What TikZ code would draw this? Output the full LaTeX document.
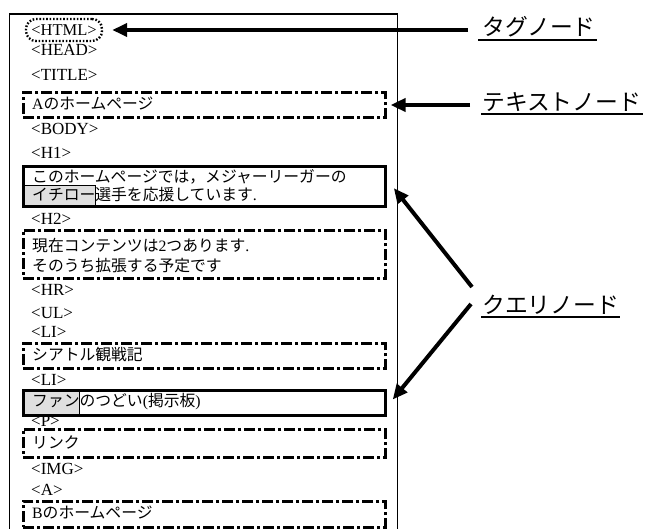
\documentclass[tikz,border=0pt]{standalone}
\usepackage{fontspec}
\setmainfont{Liberation Serif}
\newfontfamily\jp{Noto Sans CJK JP}
\usetikzlibrary{arrows.meta}
\begin{document}
\begin{tikzpicture}[x=1pt,y=-1pt,
  tag/.style={anchor=west, inner sep=0pt, font=\fontsize{17}{18}\selectfont},
  jtext/.style={anchor=west, inner sep=0pt, font=\fontsize{15.8}{18}\selectfont},
  txtbox/.style={draw, line width=2.6pt, dash pattern=on 11pt off 3pt on 3pt off 3pt, minimum width=362pt, inner sep=0pt, anchor=north west},
  qbox/.style={draw, line width=3pt, minimum width=362pt, inner sep=0pt, anchor=north west},
  hl/.style={draw, line width=1.2pt, fill=gray!25, inner sep=0pt, anchor=north west},
  lab/.style={anchor=west, inner sep=0pt, font=\jp\fontsize{22.8}{24}\selectfont},
  ul/.style={line width=2.6pt},
  arr/.style={line width=4pt, -{Triangle[length=15pt,width=13pt]}},
  tagnode/.style={draw, line width=2.4pt, dash pattern=on 1.6pt off 1.8pt, rounded corners=10pt, minimum width=76pt, minimum height=22pt, inner sep=0pt},
]
\useasboundingbox (0,0) rectangle (646,529);
% frame
\draw[line width=1.5pt] (9.5,529) -- (9.5,14) -- (397.5,14) -- (397.5,529);

% tags
\node[tagnode, font=\fontsize{16.5}{18}\selectfont] (html) at (64,30) {<HTML>};
\node[tag] (head) at (31,50) {<HEAD>};
\node[tag] (title) at (31,75) {<TITLE>};
\node[tag] (body) at (31,129) {<BODY>};
\node[tag] (h1) at (31,153) {<H1>};
\node[tag] (h2) at (31,219) {<H2>};
\node[tag] (hr) at (31,290) {<HR>};
\node[tag] (ul) at (31,313) {<UL>};
\node[tag] (li1) at (31,332) {<LI>};
\node[tag] (li2) at (31,380) {<LI>};
\node[tag] (p) at (31,421) {<P>};
\node[tag] (img) at (31,469) {<IMG>};
\node[tag] (a) at (31,490) {<A>};

% text boxes
\node[txtbox, minimum height=25pt] (t1) at (22,91) {};
\node[jtext] (t1a) at (32,103.5) {A{\jp のホームページ}};
\node[txtbox, minimum height=48pt] (t2) at (22,229) {};
\node[jtext] (t2a) at (32,246) {{\jp 現在コンテンツは}2{\jp つあります}.};
\node[jtext] (t2b) at (32,266) {{\jp そのうち拡張する予定です}};
\node[txtbox, minimum height=25pt] (t3) at (22,342) {};
\node[jtext] (t3a) at (32,354.5) {{\jp シアトル観戦記}};
\node[txtbox, minimum height=28pt] (t4) at (22,428) {};
\node[jtext] (t4a) at (32,442) {{\jp リンク}};
\node[txtbox, minimum height=26pt] (t5) at (22,500) {};
\node[jtext] (t5a) at (32,513) {B{\jp のホームページ}};

% query boxes
\node[hl, minimum width=73pt, minimum height=20pt] (g1) at (22,185) {};
\node[qbox, minimum height=40pt] (q1) at (22,165) {};
\node[jtext] (q1a) at (32,177) {{\jp このホームページでは，メジャーリーガーの}};
\node[jtext] (q1b) at (32,195) {{\jp イチロー選手を応援しています}.};
\node[hl, minimum width=57pt, minimum height=25pt] (g2) at (22,389) {};
\node[qbox, minimum height=25pt] (q2) at (22,389) {};
\node[jtext] (q2a) at (32,401.5) {{\jp ファンのつどい}({\jp 掲示板})};

% labels
\node[lab] (tagl) at (482,27) {タグノード};
\node[lab] (textl) at (482,102) {テキストノード};
\node[lab] (queryl) at (482,305) {クエリノード};
\draw[ul] (478,40) -- (597,40);
\draw[ul] (481,114) -- (643,114);
\draw[ul] (481,317) -- (620,317);

% arrows
\coordinate (a1) at (468,30);
\coordinate (a2) at (470,105);
\coordinate (a3) at (472,287);
\coordinate (a4) at (471,304);
\draw[arr, shorten >=9pt] (a1) -- (html.east);
\draw[arr, shorten >=4pt] (a2) -- (a2 -| t1.east);
\draw[arr, shorten >=11pt] (a3) -- ([yshift=7pt]q1.east);
\draw[arr, shorten >=9pt] (a4) -- ([yshift=-3.5pt]q2.east);
\end{tikzpicture}
\end{document}
